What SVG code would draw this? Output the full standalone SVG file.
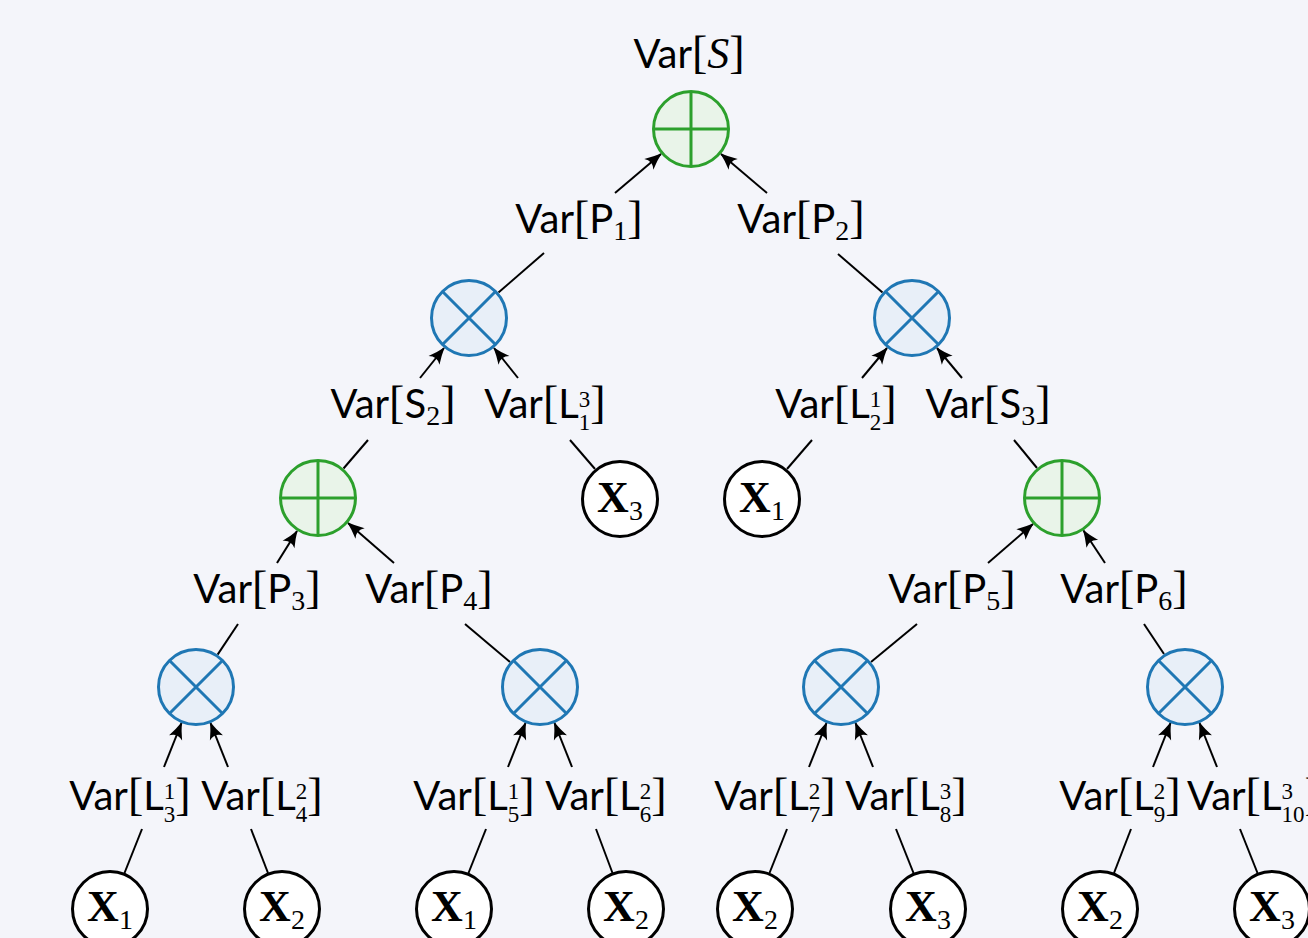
<svg xmlns="http://www.w3.org/2000/svg" width="1308" height="938" viewBox="0 0 1308 938">
  <defs>
    <style>
      .bg { fill: #f4f5fa; }
      .sum { fill: #e9f4e9; stroke: #2ca02c; stroke-width: 3; }
      .sumx { stroke: #2ca02c; stroke-width: 3; fill: none; }
      .prod { fill: #e8eff8; stroke: #1f77b4; stroke-width: 3; }
      .prodx { stroke: #1f77b4; stroke-width: 3; fill: none; }
      .leaf { fill: #ffffff; stroke: #000000; stroke-width: 3; }
      .edge { stroke: #000000; stroke-width: 2; fill: none; }
      .arr { stroke: #000000; stroke-width: 2; fill: none; marker-end: url(#ah); }
      .lbl { font-family: Lato, "Open Sans", "DejaVu Sans", sans-serif; font-size: 40px; fill: #000; text-anchor: middle; }
      .rm { font-family: "Liberation Serif", "DejaVu Serif", serif; font-size: 46px; }
      .sub { font-family: "Liberation Serif", "DejaVu Serif", serif; font-size: 28px; }
      .scr { font-family: "Liberation Serif", "DejaVu Serif", serif; font-size: 23px; }
      .cal { font-family: "Liberation Serif", "DejaVu Serif", serif; font-style: italic; font-size: 44px; }
      .xv { font-family: "Liberation Serif", "DejaVu Serif", serif; font-size: 44px; font-weight: bold; fill: #000; text-anchor: middle; }
      .xs { font-size: 28px; font-weight: normal; }
    </style>
    <marker id="ah" viewBox="-17 -8 19 16" refX="0" refY="0" markerWidth="19" markerHeight="16" markerUnits="userSpaceOnUse" orient="auto">
      <path d="M1,0 Q-7,-2.5 -16,-7 Q-10.5,0 -16,7 Q-7,2.5 1,0 Z" fill="#000"/>
    </marker>
  </defs>

  <rect class="bg" x="0" y="0" width="1308" height="938"/>

  <!-- connectors: plain segment from child to label, arrow from label to parent -->
  <g id="connectors">
    <line class="arr" x1="615" y1="193" x2="661" y2="154"/>
    <line class="arr" x1="767" y1="193" x2="721" y2="154"/>
    <line class="edge" x1="544" y1="253" x2="498.5" y2="292.5"/>
    <line class="edge" x1="838" y1="254" x2="882.5" y2="292.5"/>

    <line class="arr" x1="420" y1="378" x2="444" y2="348"/>
    <line class="arr" x1="518" y1="378" x2="494" y2="348"/>
    <line class="arr" x1="862" y1="378" x2="887" y2="348"/>
    <line class="arr" x1="962" y1="378" x2="937" y2="348"/>
    <line class="edge" x1="368" y1="440" x2="343.5" y2="468.5"/>
    <line class="edge" x1="570" y1="440" x2="595" y2="469"/>
    <line class="edge" x1="812" y1="440" x2="787" y2="469"/>
    <line class="edge" x1="1014" y1="440" x2="1037" y2="468"/>

    <line class="arr" x1="277" y1="563" x2="297" y2="531"/>
    <line class="arr" x1="394" y1="563" x2="348" y2="523"/>
    <line class="arr" x1="988" y1="563" x2="1033" y2="524"/>
    <line class="arr" x1="1105" y1="563" x2="1083.5" y2="530.5"/>
    <line class="edge" x1="238" y1="624" x2="217.6" y2="654.6"/>
    <line class="edge" x1="465" y1="624" x2="510" y2="662"/>
    <line class="edge" x1="917" y1="624" x2="871" y2="662"/>
    <line class="edge" x1="1144" y1="624" x2="1164" y2="654"/>

    <line class="arr" x1="164" y1="767" x2="181.5" y2="723"/>
    <line class="arr" x1="228" y1="767" x2="210.5" y2="723"/>
    <line class="arr" x1="508" y1="767" x2="525.5" y2="723"/>
    <line class="arr" x1="572" y1="767" x2="554.5" y2="723"/>
    <line class="arr" x1="809" y1="767" x2="826.5" y2="723"/>
    <line class="arr" x1="873" y1="767" x2="855.5" y2="723"/>
    <line class="arr" x1="1153" y1="767" x2="1170.5" y2="723"/>
    <line class="arr" x1="1217" y1="767" x2="1199.5" y2="723"/>

    <line class="edge" x1="142" y1="829" x2="124.5" y2="873"/>
    <line class="edge" x1="251" y1="829" x2="268" y2="873"/>
    <line class="edge" x1="486" y1="829" x2="468.5" y2="873"/>
    <line class="edge" x1="596" y1="829" x2="612.5" y2="873"/>
    <line class="edge" x1="787" y1="829" x2="769.5" y2="873"/>
    <line class="edge" x1="896" y1="829" x2="913.5" y2="873"/>
    <line class="edge" x1="1131" y1="829" x2="1114" y2="873"/>
    <line class="edge" x1="1240" y1="829" x2="1257.5" y2="873"/>
  </g>

  <!-- edge labels -->
  <g id="labels">
    <text class="lbl" x="689" y="68">Var<tspan class="rm">[</tspan><tspan class="cal">S</tspan><tspan class="rm">]</tspan></text>

    <text class="lbl" x="579" y="233">Var<tspan class="rm">[</tspan>P<tspan class="sub" dy="7">1</tspan><tspan class="rm" dy="-7">]</tspan></text>
    <text class="lbl" x="801" y="233">Var<tspan class="rm">[</tspan>P<tspan class="sub" dy="7">2</tspan><tspan class="rm" dy="-7">]</tspan></text>

    <text class="lbl" x="393" y="418">Var<tspan class="rm">[</tspan>S<tspan class="sub" dy="7">2</tspan><tspan class="rm" dy="-7">]</tspan></text>
    <text class="lbl" x="545" y="418">Var<tspan class="rm">[</tspan>L<tspan class="scr" dy="-11">3</tspan><tspan class="scr" dx="-11.5" dy="23">1</tspan><tspan class="rm" dy="-12">]</tspan></text>
    <text class="lbl" x="836" y="418">Var<tspan class="rm">[</tspan>L<tspan class="scr" dy="-11">1</tspan><tspan class="scr" dx="-11.5" dy="23">2</tspan><tspan class="rm" dy="-12">]</tspan></text>
    <text class="lbl" x="988" y="418">Var<tspan class="rm">[</tspan>S<tspan class="sub" dy="7">3</tspan><tspan class="rm" dy="-7">]</tspan></text>

    <text class="lbl" x="257" y="603">Var<tspan class="rm">[</tspan>P<tspan class="sub" dy="7">3</tspan><tspan class="rm" dy="-7">]</tspan></text>
    <text class="lbl" x="429" y="603">Var<tspan class="rm">[</tspan>P<tspan class="sub" dy="7">4</tspan><tspan class="rm" dy="-7">]</tspan></text>
    <text class="lbl" x="952" y="603">Var<tspan class="rm">[</tspan>P<tspan class="sub" dy="7">5</tspan><tspan class="rm" dy="-7">]</tspan></text>
    <text class="lbl" x="1124" y="603">Var<tspan class="rm">[</tspan>P<tspan class="sub" dy="7">6</tspan><tspan class="rm" dy="-7">]</tspan></text>

    <text class="lbl" x="130" y="810">Var<tspan class="rm">[</tspan>L<tspan class="scr" dy="-11">1</tspan><tspan class="scr" dx="-11.5" dy="23">3</tspan><tspan class="rm" dy="-12">]</tspan></text>
    <text class="lbl" x="262" y="810">Var<tspan class="rm">[</tspan>L<tspan class="scr" dy="-11">2</tspan><tspan class="scr" dx="-11.5" dy="23">4</tspan><tspan class="rm" dy="-12">]</tspan></text>
    <text class="lbl" x="474" y="810">Var<tspan class="rm">[</tspan>L<tspan class="scr" dy="-11">1</tspan><tspan class="scr" dx="-11.5" dy="23">5</tspan><tspan class="rm" dy="-12">]</tspan></text>
    <text class="lbl" x="606" y="810">Var<tspan class="rm">[</tspan>L<tspan class="scr" dy="-11">2</tspan><tspan class="scr" dx="-11.5" dy="23">6</tspan><tspan class="rm" dy="-12">]</tspan></text>
    <text class="lbl" x="775" y="810">Var<tspan class="rm">[</tspan>L<tspan class="scr" dy="-11">2</tspan><tspan class="scr" dx="-11.5" dy="23">7</tspan><tspan class="rm" dy="-12">]</tspan></text>
    <text class="lbl" x="906" y="810">Var<tspan class="rm">[</tspan>L<tspan class="scr" dy="-11">3</tspan><tspan class="scr" dx="-11.5" dy="23">8</tspan><tspan class="rm" dy="-12">]</tspan></text>
    <text class="lbl" x="1120" y="810">Var<tspan class="rm">[</tspan>L<tspan class="scr" dy="-11">2</tspan><tspan class="scr" dx="-11.5" dy="23">9</tspan><tspan class="rm" dy="-12">]</tspan></text>
    <text class="lbl" x="1187" y="810" style="text-anchor:start">Var<tspan class="rm">[</tspan>L<tspan class="scr" dy="-11">3</tspan><tspan class="scr" dx="-11.5" dy="23">10</tspan><tspan class="rm" dy="-12">]</tspan></text>
  </g>

  <!-- sum nodes -->
  <g id="sum-root">
    <circle class="sum" cx="691" cy="129" r="37.5"/>
    <path class="sumx" d="M653.5,129 H728.5 M691,91.5 V166.5"/>
  </g>
  <g id="sum-left">
    <circle class="sum" cx="318" cy="498" r="37.5"/>
    <path class="sumx" d="M280.5,498 H355.5 M318,460.5 V535.5"/>
  </g>
  <g id="sum-right">
    <circle class="sum" cx="1062" cy="498" r="37.5"/>
    <path class="sumx" d="M1024.5,498 H1099.5 M1062,460.5 V535.5"/>
  </g>

  <!-- product nodes -->
  <g id="prod-1">
    <circle class="prod" cx="469" cy="318" r="37.5"/>
    <path class="prodx" d="M442.5,291.5 L495.5,344.5 M495.5,291.5 L442.5,344.5"/>
  </g>
  <g id="prod-2">
    <circle class="prod" cx="912" cy="318" r="37.5"/>
    <path class="prodx" d="M885.5,291.5 L938.5,344.5 M938.5,291.5 L885.5,344.5"/>
  </g>
  <g id="prod-3">
    <circle class="prod" cx="196" cy="687" r="37.5"/>
    <path class="prodx" d="M169.5,660.5 L222.5,713.5 M222.5,660.5 L169.5,713.5"/>
  </g>
  <g id="prod-4">
    <circle class="prod" cx="540" cy="687" r="37.5"/>
    <path class="prodx" d="M513.5,660.5 L566.5,713.5 M566.5,660.5 L513.5,713.5"/>
  </g>
  <g id="prod-5">
    <circle class="prod" cx="841" cy="687" r="37.5"/>
    <path class="prodx" d="M814.5,660.5 L867.5,713.5 M867.5,660.5 L814.5,713.5"/>
  </g>
  <g id="prod-6">
    <circle class="prod" cx="1185" cy="687" r="37.5"/>
    <path class="prodx" d="M1158.5,660.5 L1211.5,713.5 M1211.5,660.5 L1158.5,713.5"/>
  </g>

  <!-- leaf nodes -->
  <g id="leaf-x3-a">
    <circle class="leaf" cx="620" cy="499" r="37.5"/>
    <text class="xv" x="620" y="512">X<tspan class="xs" dy="8">3</tspan></text>
  </g>
  <g id="leaf-x1-a">
    <circle class="leaf" cx="762" cy="499" r="37.5"/>
    <text class="xv" x="762" y="512">X<tspan class="xs" dy="8">1</tspan></text>
  </g>
  <g id="leaf-1">
    <circle class="leaf" cx="110" cy="909" r="37.5"/>
    <text class="xv" x="110" y="921">X<tspan class="xs" dy="8">1</tspan></text>
  </g>
  <g id="leaf-2">
    <circle class="leaf" cx="282" cy="909" r="37.5"/>
    <text class="xv" x="282" y="921">X<tspan class="xs" dy="8">2</tspan></text>
  </g>
  <g id="leaf-3">
    <circle class="leaf" cx="454" cy="909" r="37.5"/>
    <text class="xv" x="454" y="921">X<tspan class="xs" dy="8">1</tspan></text>
  </g>
  <g id="leaf-4">
    <circle class="leaf" cx="626" cy="909" r="37.5"/>
    <text class="xv" x="626" y="921">X<tspan class="xs" dy="8">2</tspan></text>
  </g>
  <g id="leaf-5">
    <circle class="leaf" cx="755" cy="909" r="37.5"/>
    <text class="xv" x="755" y="921">X<tspan class="xs" dy="8">2</tspan></text>
  </g>
  <g id="leaf-6">
    <circle class="leaf" cx="928" cy="909" r="37.5"/>
    <text class="xv" x="928" y="921">X<tspan class="xs" dy="8">3</tspan></text>
  </g>
  <g id="leaf-7">
    <circle class="leaf" cx="1100" cy="909" r="37.5"/>
    <text class="xv" x="1100" y="921">X<tspan class="xs" dy="8">2</tspan></text>
  </g>
  <g id="leaf-8">
    <circle class="leaf" cx="1272" cy="909" r="37.5"/>
    <text class="xv" x="1272" y="921">X<tspan class="xs" dy="8">3</tspan></text>
  </g>
</svg>
